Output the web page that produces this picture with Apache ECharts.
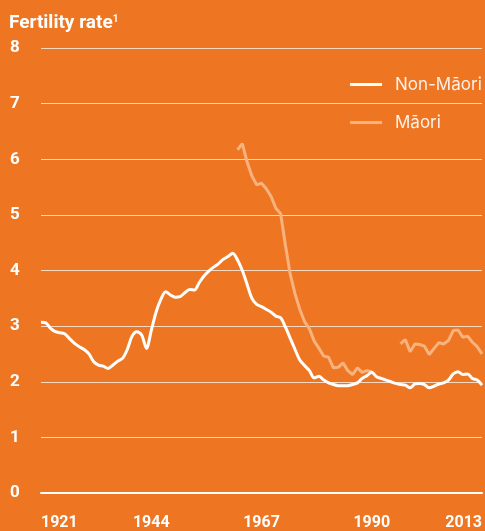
<!DOCTYPE html>
<html>
<head>
<meta charset="utf-8">
<script src="https://cdn.jsdelivr.net/npm/echarts@6/dist/echarts.min.js"></script>
<style>
  html, body { margin: 0; padding: 0; background: #ee7623; }
  #main { width: 485px; height: 531px; }
</style>
</head>
<body>
<div id="main"></div>
<script>
// 年份（1921 - 2013，每年一个点）
var firstYear = 1921;
var lastYear = 2013;
var years = [];
for (var y = firstYear; y <= lastYear; y++) {
  years.push(String(y));
}

// 非毛利人生育率
var nonMaori = [
  3.07, 3.06, 2.96, 2.90, 2.88, 2.86, 2.77, 2.69, 2.63, 2.58,   // 1921-1930
  2.50, 2.36, 2.30, 2.28, 2.24, 2.30, 2.37, 2.42, 2.58, 2.82,   // 1931-1940
  2.90, 2.84, 2.60, 2.92, 3.25, 3.48, 3.62, 3.56, 3.52, 3.53,   // 1941-1950
  3.60, 3.66, 3.65, 3.78, 3.90, 3.99, 4.06, 4.12, 4.20, 4.25,   // 1951-1960
  4.31, 4.19, 4.00, 3.75, 3.50, 3.39, 3.35, 3.30, 3.25, 3.18,   // 1961-1970
  3.15, 2.98, 2.78, 2.58, 2.39, 2.29, 2.20, 2.07, 2.10, 2.03,   // 1971-1980
  1.98, 1.95, 1.93, 1.93, 1.93, 1.95, 1.98, 2.06, 2.11, 2.17,   // 1981-1990
  2.09, 2.06, 2.03, 2.00, 1.97, 1.95, 1.94, 1.89, 1.96, 1.97,   // 1991-2000
  1.95, 1.89, 1.92, 1.96, 1.98, 2.03, 2.14, 2.18, 2.13, 2.14,   // 2001-2010
  2.06, 2.03, 1.94                                              // 2011-2013
];

// 毛利人生育率（1962-1990, 1996-2013，其余年份无数据）
var maori = [
  null, null, null, null, null, null, null, null, null, null,   // 1921-1930
  null, null, null, null, null, null, null, null, null, null,   // 1931-1940
  null, null, null, null, null, null, null, null, null, null,   // 1941-1950
  null, null, null, null, null, null, null, null, null, null,   // 1951-1960
  null, 6.17, 6.28, 5.95, 5.70, 5.54, 5.57, 5.47, 5.33, 5.12,   // 1961-1970
  5.02, 4.45, 3.93, 3.58, 3.30, 3.08, 2.95, 2.73, 2.60, 2.46,   // 1971-1980
  2.44, 2.25, 2.26, 2.34, 2.20, 2.13, 2.25, 2.17, 2.20, 2.18,   // 1981-1990
  null, null, null, null, null, 2.68, 2.76, 2.54, 2.68, 2.67,   // 1991-2000
  2.64, 2.49, 2.60, 2.70, 2.68, 2.74, 2.92, 2.93, 2.80, 2.82,   // 2001-2010
  2.71, 2.63, 2.50                                              // 2011-2013
];

var labelYears = ['1921', '1944', '1967', '1990', '2013'];
var yTicks = { min: 0, max: 8, interval: 1 };

var chart = echarts.init(document.getElementById('main'), null, { renderer: 'canvas' });

var option = {
  backgroundColor: '#ee7623',
  animation: false,
  title: {
    text: 'Fertility rate{sup|1}',
    left: 4,
    top: 9,
    textStyle: {
      color: '#ffffff',
      fontFamily: 'Roboto',
      fontWeight: 'bold',
      fontSize: 19,
      rich: {
        sup: {
          color: '#ffffff',
          fontFamily: 'Roboto',
          fontWeight: 'bold',
          fontSize: 10,
          verticalAlign: 'top',
          padding: [0, 0, 8, 0]
        }
      }
    }
  },
  legend: {
    orient: 'vertical',
    left: 350,
    top: 76,
    padding: 0,
    itemGap: 21,
    itemWidth: 32,
    itemHeight: 3,
    icon: 'rect',
    data: ['Non-Māori', 'Māori'],
    textStyle: {
      color: '#fdf1e8',
      fontFamily: 'Inter',
      fontSize: 17,
      padding: [0, 0, 0, 8]
    }
  },
  grid: {
    left: 41,
    right: 3,
    top: 48,
    bottom: 31,
    containLabel: false
  },
  xAxis: {
    type: 'category',
    data: years,
    boundaryGap: false,
    axisLine: { show: true, lineStyle: { color: '#ffffff', width: 2 } },
    axisTick: { show: false },
    splitLine: { show: false },
    axisLabel: {
      interval: function (index, value) {
        return labelYears.indexOf(value) !== -1;
      },
      alignMinLabel: 'left',
      alignMaxLabel: 'right',
      margin: 22,
      color: '#ffffff',
      fontFamily: 'Roboto',
      fontWeight: 'bold',
      fontSize: 16
    }
  },
  yAxis: {
    type: 'value',
    min: yTicks.min,
    max: yTicks.max,
    interval: yTicks.interval,
    axisLine: { show: false },
    axisTick: { show: false },
    splitLine: { show: true, lineStyle: { color: 'rgba(255,255,255,0.72)', width: 1 } },
    axisLabel: {
      align: 'left',
      margin: 31,
      color: '#ffffff',
      fontFamily: 'Roboto',
      fontWeight: 'bold',
      fontSize: 17
    }
  },
  series: [
    {
      name: 'Māori',
      type: 'line',
      data: maori,
      showSymbol: false,
      symbol: 'none',
      connectNulls: false,
      lineStyle: { color: '#f7b27e', width: 3 },
      itemStyle: { color: '#f7b27e' },
      z: 2
    },
    {
      name: 'Non-Māori',
      type: 'line',
      data: nonMaori,
      showSymbol: false,
      symbol: 'none',
      smooth: 0.3,
      lineStyle: { color: '#ffffff', width: 3 },
      itemStyle: { color: '#ffffff' },
      z: 3
    }
  ]
};

chart.setOption(option);
</script>
</body>
</html>
